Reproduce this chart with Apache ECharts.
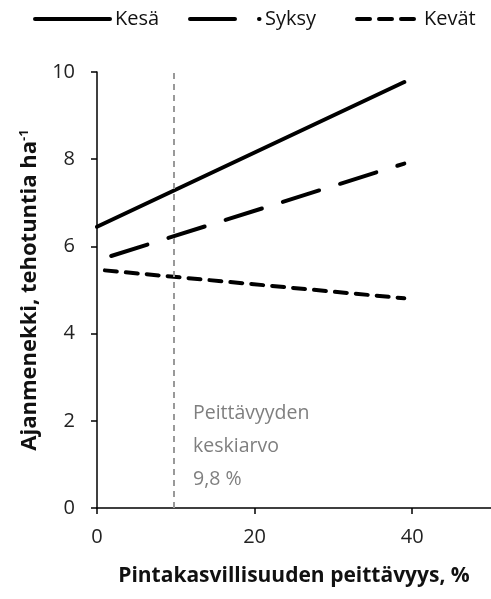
<!DOCTYPE html>
<html><head><meta charset="utf-8">
<script src="https://cdn.jsdelivr.net/npm/echarts@6/dist/echarts.min.js"></script>
<style>html,body{margin:0;padding:0;background:#fff}#c{width:491px;height:599px}</style>
</head><body><div id="c"></div>
<script>
var seriesNames = ['Kesä', 'Syksy', 'Kevät'];
var kesaX = [0, 39];
var kesaY = [6.45, 9.77];
var syksyX = [1.8, 39];
var syksyY = [5.78, 7.9];
var kevatX = [1, 39];
var kevatY = [5.45, 4.81];
var meanCover = 9.8;
var xTicks = [0, 20, 40];
var annotation = ['Peittävyyden', 'keskiarvo', '9,8 %'];

function pairs(xs, ys) { return xs.map(function (x, i) { return [x, ys[i]]; }); }

var FONT = '"Open Sans", sans-serif';
var chart = echarts.init(document.getElementById('c'));
var legBase = { top: 4, itemHeight: 14, textStyle: { fontFamily: FONT, fontSize: 20, color: '#111' }, selectedMode: false,
  itemStyle: { color: 'rgba(0,0,0,0)', borderWidth: 0, opacity: 0 } };
chart.setOption({
  animation: false,
  legend: [
    Object.assign({}, legBase, { data: [{ name: seriesNames[0] }], left: 28, itemWidth: 75, itemGap: 4, lineStyle: { color: '#000', type: 'solid', width: 4, cap: 'round' } }),
    Object.assign({}, legBase, { data: [{ name: seriesNames[1] }], left: 183, itemWidth: 70, itemGap: 2, lineStyle: { color: '#000', type: [45, 24, 0.5, 100], width: 4, cap: 'round' } }),
    Object.assign({}, legBase, { data: [{ name: seriesNames[2] }], left: 350, itemWidth: 62, itemGap: 14, lineStyle: { color: '#000', type: [13, 9], width: 4, cap: 'round' } })
  ],
  grid: { left: 97, top: 72, width: 400, bottom: 91 },
  xAxis: {
    type: 'value', min: 0, max: 50, interval: 20,
    name: 'Pintakasvillisuuden peittävyys, %', nameLocation: 'middle', nameGap: 58,
    nameTextStyle: { fontFamily: FONT, fontSize: 21, fontWeight: 'bold', color: '#111' },
    axisLine: { show: true, lineStyle: { color: '#000', width: 1.5 } },
    axisTick: { show: true, length: 6, lineStyle: { color: '#000', width: 1.5 }, customValues: xTicks },
    axisLabel: { fontFamily: FONT, fontSize: 20, color: '#222', margin: 19, customValues: xTicks },
    splitLine: { show: false }
  },
  yAxis: {
    type: 'value', min: 0, max: 10, interval: 2,
    name: '{a|Ajanmenekki, tehotuntia ha}{s|-1}', nameLocation: 'middle', nameGap: 54,
    nameTextStyle: { fontFamily: FONT, fontSize: 22, fontWeight: 'bold', color: '#111',
      rich: { a: { fontFamily: FONT, fontSize: 22, fontWeight: 'bold', color: '#111' },
              s: { fontFamily: FONT, fontSize: 13, fontWeight: 'bold', color: '#111', verticalAlign: 'top', padding: [0, 0, 12, 0] } } },
    axisLine: { show: true, lineStyle: { color: '#000', width: 1.5 } },
    axisTick: { show: true, length: 6, lineStyle: { color: '#000', width: 1.5 } },
    axisLabel: { fontFamily: FONT, fontSize: 20, color: '#222', margin: 22 },
    splitLine: { show: false }
  },
  series: [
    { name: seriesNames[0], type: 'line', data: pairs(kesaX, kesaY), showSymbol: false, symbol: 'none',
      lineStyle: { color: '#000', width: 4, type: 'solid', cap: 'round' }, itemStyle: { color: '#000' },
      markLine: { silent: true, symbol: 'none', label: { show: false },
        lineStyle: { color: '#999', width: 2, type: [6, 5] }, data: [{ xAxis: meanCover }] } },
    { name: seriesNames[1], type: 'line', data: pairs(syksyX, syksyY), showSymbol: false, symbol: 'none',
      lineStyle: { color: '#000', width: 4, type: [38, 22], cap: 'round' }, itemStyle: { color: '#000' } },
    { name: seriesNames[2], type: 'line', data: pairs(kevatX, kevatY), showSymbol: false, symbol: 'none',
      lineStyle: { color: '#000', width: 4, type: [12, 9], cap: 'round' }, itemStyle: { color: '#000' } }
  ],
  graphic: [{
    type: 'text', left: 193, top: 397,
    style: { text: annotation.join('\n'), fontFamily: FONT, fontSize: 19.5, lineHeight: 33, fill: '#7f7f7f' }
  }]
});
</script></body></html>
